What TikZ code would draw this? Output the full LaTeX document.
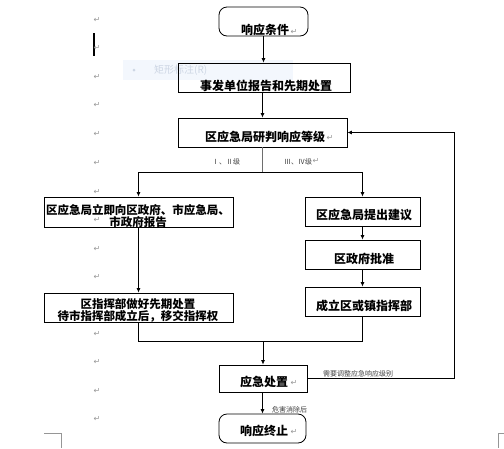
\documentclass[tikz,border=0pt]{standalone}
\usepackage{fontspec}
\setmainfont{Noto Sans CJK SC}
\newfontfamily\dejavu{DejaVu Sans}
\usetikzlibrary{arrows.meta}
\definecolor{markgray}{RGB}{150,150,150}
\definecolor{tipbg}{RGB}{243,247,253}
\definecolor{tiptext}{RGB}{205,214,228}
\definecolor{stemgray}{RGB}{110,110,110}
\tikzset{
  box/.style={draw=black, line width=0.8pt, inner sep=0pt},
  rbox/.style={box, rounded corners=8pt},
  boxtext/.style={font=\bfseries\fontsize{12}{12}\selectfont, inner sep=0pt, align=center},
  smalltext/.style={font=\fontsize{7}{7}\selectfont, text=black!75, inner sep=0pt},
  conn/.style={line width=0.8pt, draw=black},
  arr/.style={conn, -{Latex[length=4.5pt,width=4pt]}},
  pmark/.style={font=\dejavu\fontsize{8}{8}\selectfont, text=markgray, inner sep=0pt}
}
\begin{document}
\begin{tikzpicture}[x=1pt,y=-1pt]
\useasboundingbox (0,0) rectangle (504,448);
% faint tooltip
\fill[tipbg] (123,60) rectangle (293,80);
\fill[tiptext] (134,70) circle (1.5);
\node[font=\fontsize{10}{10}\selectfont, text=tiptext, anchor=west, inner sep=0pt] (tip) at (154,70) {矩形标注(R)};
% cursor
\draw[line width=1.6pt] (94,33) -- (94,56);
% paragraph marks
\foreach \yy [count=\i] in {20,48,77,105,134,163,192,220,249,277,334,362,391,419}
  \node[pmark] (pm\i) at (97,\yy) {↵};
% boxes
\node[rbox, minimum width=89pt, minimum height=29pt] (start) at (263.5,21.5) {};
\node[box, minimum width=172pt, minimum height=29pt] (b1) at (264,77.5) {};
\node[box, minimum width=169pt, minimum height=29pt] (b2) at (262.5,132.5) {};
\node[box, minimum width=189pt, minimum height=30pt] (L1) at (138.5,212) {};
\node[box, minimum width=115pt, minimum height=29pt] (R1) at (362.5,211.5) {};
\node[box, minimum width=115pt, minimum height=29pt] (R2) at (362.5,254.5) {};
\node[box, minimum width=115pt, minimum height=29pt] (R3) at (362.5,301.5) {};
\node[box, minimum width=189pt, minimum height=29pt] (L2) at (138.5,307.5) {};
\node[box, minimum width=88pt, minimum height=27pt] (dis) at (263,378.5) {};
\node[rbox, minimum width=87pt, minimum height=29pt] (end) at (262.5,428.5) {};
% box texts
\node[boxtext] (tstart) at (265,30) {响应条件};
\node[pmark] (pst) at (294,32) {↵};
\node[boxtext] (tb1) at (266,85.5) {事发单位报告和先期处置};
\node[boxtext] (tb2) at (265,136.5) {区应急局研判响应等级};
\node[pmark] (pb2) at (330,138) {↵};
\node[boxtext, font=\bfseries\fontsize{11.5}{11}\selectfont] (tL1) at (138,216) {区应急局立即向区政府、市应急局、\\市政府报告};
\node[boxtext] (tR1) at (364,215) {区应急局提出建议};
\node[boxtext] (tR2) at (364,259) {区政府批准};
\node[boxtext] (tR3) at (364,305.5) {成立区或镇指挥部};
\node[boxtext, font=\bfseries\fontsize{11.5}{12}\selectfont] (tL2) at (138,310) {区指挥部做好先期处置\\待市指挥部成立后，移交指挥权};
\node[boxtext] (tdis) at (264,382) {应急处置};
\node[pmark] (pdis) at (294,383) {↵};
\node[boxtext] (tend) at (264,431) {响应终止};
\node[pmark] (pend) at (294,432) {↵};
% small labels
\node[smalltext] (l12) at (226,162) {Ⅰ、Ⅱ级};
\node[smalltext] (l34) at (298,162) {Ⅲ、Ⅳ级};
\node[pmark] (p34) at (316,161) {↵};
\node[smalltext, anchor=west] (ladj) at (323,374) {需要调整应急响应级别};
\node[smalltext, anchor=west] (lend) at (272,410) {危害消除后};
% connectors
\coordinate (split) at (262.5,172);
\coordinate (merge) at (263,341);
\coordinate (fb) at (454,378.5);
\draw[arr] (start.south) -- (b1.north -| start.south);
\draw[arr] (b1.south -| b2.north) -- (b2.north);
\draw[line width=0.8pt, draw=stemgray] (b2.south) -- (split);
\draw[arr] (split) -| (L1.north);
\draw[arr] (split) -| (R1.north);
\draw[arr] (L1.south) -- (L2.north);
\draw[arr] (R1.south) -- (R2.north);
\draw[arr] (R2.south) -- (R3.north);
\draw[conn] (L2.south) |- (merge);
\draw[conn] (R3.south) |- (merge);
\draw[arr] (merge) -- (merge |- dis.north);
\draw[arr] (dis.east) -- (fb) |- (b2.east);
\draw[arr] (dis.south -| end.north) -- (end.north);
% page corner marks
\draw[markgray, line width=0.6pt] (44,433) -- (61,433) -- (61,448);
\draw[markgray, line width=0.6pt] (504,433) -- (498,433) -- (498,448);
\end{tikzpicture}
\end{document}
